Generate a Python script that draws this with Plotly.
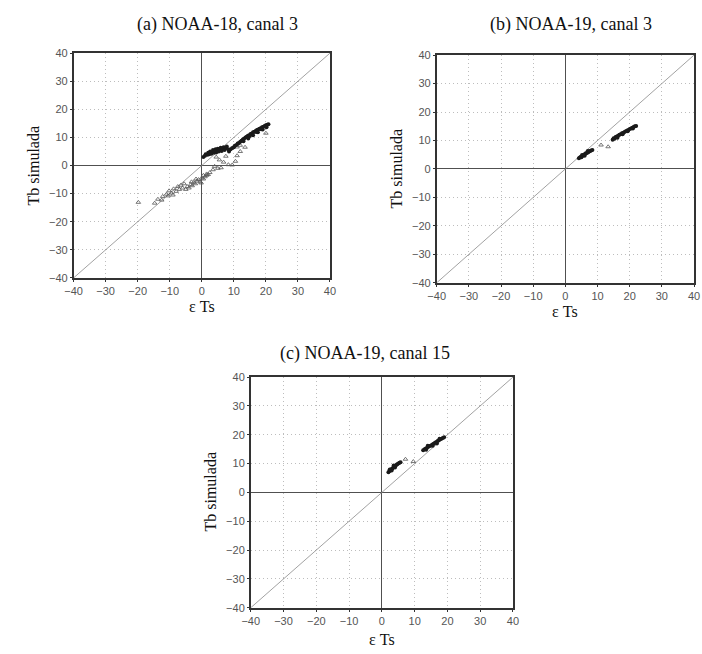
import plotly.graph_objects as go

W, H = 702, 654

TICKS = [-40, -30, -20, -10, 0, 10, 20, 30, 40]
DIAG = [-40, 40]

TITLES = ["(a) NOAA-18, canal 3", "(b) NOAA-19, canal 3", "(c) NOAA-19, canal 15"]
XLABEL = "ε Ts"
YLABEL = "Tb simulada"

# Panel (a) — dense points
a_dense_x = [0.5, 1.0, 1.2, 1.8, 2.0, 2.3, 2.6, 3.0, 3.2, 3.5, 3.8, 4.0, 4.3, 4.5, 4.8, 5.0, 5.3, 5.6, 5.9, 6.2, 6.5, 6.8, 7.1, 7.5, 7.8, 8.2,
             8.5, 9.0, 9.5, 10.0, 10.3, 10.8, 11.2, 11.6, 12.0, 12.4, 12.8, 13.2, 13.6, 14.0, 14.4, 14.8, 15.2, 15.6, 16.0, 16.4, 16.8,
             17.2, 17.6, 18.0, 18.4, 18.8, 19.2, 19.6, 20.0, 20.4, 20.8, 13.0, 14.5, 16.0, 17.5, 19.0, 15.0, 17.0, 18.5, 20.2]
a_dense_y = [3.0, 3.5, 4.0, 3.8, 4.5, 4.0, 5.0, 4.2, 4.8, 5.5, 4.5, 5.0, 5.8, 4.6, 5.3, 6.0, 5.0, 5.6, 6.3, 5.2, 5.9, 6.5, 5.5, 6.2, 6.8, 5.8,
             5.0, 5.8, 6.2, 6.5, 7.0, 7.3, 7.8, 8.0, 8.5, 8.8, 9.3, 9.5, 10.0, 10.2, 10.6, 10.8, 11.2, 11.4, 11.8, 12.0, 12.3,
             12.6, 12.8, 13.1, 13.3, 13.6, 13.8, 14.1, 14.3, 14.5, 14.7, 8.6, 9.6, 10.8, 11.8, 12.8, 10.5, 11.9, 12.9, 13.6]
# Panel (a) — sparse points
a_sparse_x = [4.5, 5.5, 6.8, 7.5, 8.3, 9.5, 10.5, 11.0, 12.0, 13.5, 6.0, 5.0, 3.5, 2.5, 4.0, 1.5, 0.5, 20.0, 12.0, 11.0,
              -5.0, -4.5, -4.0, -3.5, -3.0, -2.5, -2.0, -1.5, -1.0, -0.5, 0.0, 0.5, 1.0, 1.5, 2.0, -1.8, -3.2, -0.2,
              -19.8, -14.7, -13.7, -12.2, -11.0, -10.2, -9.5, -8.8, -8.0, -7.5, -7.0, -6.5, -6.0, -5.5, -10.5, -9.0, -12.5]
a_sparse_y = [3.0, 2.0, 1.2, 3.3, 0.3, 0.2, 1.5, 3.5, 5.0, 6.5, -0.8, -1.0, -1.5, -2.5, -0.3, -3.0, -3.5, 11.5, 7.2, 6.6,
              -8.5, -7.5, -8.0, -6.8, -7.2, -6.0, -6.5, -5.5, -5.0, -5.8, -4.5, -4.8, -4.0, -3.5, -3.2, -4.8, -5.8, -6.2,
              -13.1, -13.4, -12.0, -11.0, -10.2, -9.0, -9.8, -8.3, -9.2, -7.5, -8.5, -7.0, -8.0, -6.5, -10.8, -10.5, -12.3]

# Panel (b)
b_dense_x = [4.2, 4.5, 4.8, 5.0, 5.3, 5.6, 5.9, 6.2, 6.5, 6.8, 7.1, 7.4, 7.7, 8.0, 8.4, 5.2, 6.0, 7.0,
             14.7, 15.0, 15.3, 15.6, 16.0, 16.4, 16.8, 17.2, 17.6, 18.0, 18.4, 18.8, 19.2, 19.6, 20.0, 20.4, 20.8, 21.2, 21.6, 22.0,
             16.2, 17.8, 19.4, 21.0]
b_dense_y = [3.8, 4.0, 4.3, 4.1, 4.6, 4.8, 5.0, 5.3, 5.5, 5.7, 5.9, 6.1, 6.3, 6.5, 6.7, 4.9, 4.6, 6.3,
             10.3, 10.8, 10.6, 11.2, 11.4, 11.7, 12.0, 12.2, 12.5, 12.7, 13.0, 13.2, 13.5, 13.7, 14.0, 14.2, 14.5, 14.7, 15.0, 15.1,
             11.0, 12.2, 13.2, 14.2]
b_sparse_x = [11.1, 13.3]
b_sparse_y = [8.4, 7.8]

# Panel (c)
c_dense_x = [2.0, 2.3, 2.6, 2.9, 3.2, 3.5, 3.8, 4.1, 4.4, 4.7, 5.0, 5.4, 5.7, 3.0, 4.0, 2.4, 3.6,
             12.6, 13.0, 13.4, 13.8, 14.2, 14.6, 15.0, 15.4, 15.8, 16.2, 16.6, 17.0, 17.4, 17.8, 18.2, 18.6, 19.0,
             14.0, 15.5, 16.8, 13.5, 17.6]
c_dense_y = [7.0, 7.4, 7.6, 8.0, 8.3, 8.6, 8.9, 9.2, 9.5, 9.8, 10.0, 10.3, 10.5, 7.6, 8.6, 7.9, 9.3,
             14.6, 15.0, 15.2, 15.5, 15.8, 16.1, 16.3, 16.6, 16.9, 17.2, 17.5, 17.8, 18.1, 18.4, 18.6, 18.9, 19.1,
             16.2, 16.2, 17.0, 14.8, 18.6]
c_sparse_x = [7.2, 9.6]
c_sparse_y = [11.5, 10.7]

panels = [
    dict(dx=a_dense_x, dy=a_dense_y, sx=a_sparse_x, sy=a_sparse_y, box=(66, 328, 48, 277)),
    dict(dx=b_dense_x, dy=b_dense_y, sx=b_sparse_x, sy=b_sparse_y, box=(437, 700, 50, 282)),
    dict(dx=c_dense_x, dy=c_dense_y, sx=c_sparse_x, sy=c_sparse_y, box=(247, 515, 378, 613)),
]

title_pos = [(213, 19), (574, 19), (364, 354)]
ylab_pos = [(25, 162), (396, 166), (206, 495)]
xlab_pos = [(197, 306), (568, 311), (381, 645)]

fig = go.Figure()
annotations = []
for i, p in enumerate(panels):
    n = "" if i == 0 else str(i + 1)
    xa, ya = "x" + n, "y" + n
    fig.add_trace(go.Scatter(x=DIAG, y=DIAG, mode="lines", xaxis=xa, yaxis=ya,
                             line=dict(color="#8a8a8a", width=0.8), hoverinfo="skip", showlegend=False))
    fig.add_trace(go.Scatter(x=p["sx"], y=p["sy"], mode="markers", xaxis=xa, yaxis=ya,
                             marker=dict(symbol="triangle-up-open", size=4, color="#555555",
                                         line=dict(width=0.8, color="#555555")),
                             showlegend=False))
    fig.add_trace(go.Scatter(x=p["dx"], y=p["dy"], mode="markers", xaxis=xa, yaxis=ya,
                             marker=dict(symbol="circle", size=4, color="#1a1a1a",
                                         line=dict(width=0)),
                             showlegend=False))
    x0, x1, y0, y1 = p["box"]
    axis_common = dict(range=[-40, 40], tickvals=TICKS, showgrid=True, gridcolor="#bdbdbd",
                       griddash="1px,3px", gridwidth=1, zeroline=True, zerolinecolor="#505050",
                       zerolinewidth=1.2, showline=True, linecolor="#333333", linewidth=1.5,
                       mirror=True, ticks="outside", ticklen=2, tickcolor="#333333",
                       tickfont=dict(family="Liberation Sans, Arial, sans-serif", size=11, color="#555555"),
                       ticklabeloverflow="allow", fixedrange=True)
    fig.layout["xaxis" + n] = dict(axis_common, domain=[x0 / W, x1 / W], anchor=ya)
    fig.layout["yaxis" + n] = dict(axis_common, domain=[1 - y1 / H, 1 - y0 / H], anchor=xa)

    tx, ty = title_pos[i]
    annotations.append(dict(text=TITLES[i], x=tx / W, y=1 - ty / H, xref="paper", yref="paper",
                            showarrow=False, xanchor="center", yanchor="middle",
                            font=dict(family="Liberation Serif, Times New Roman, serif", size=18, color="#111111")))
    lx, ly = ylab_pos[i]
    annotations.append(dict(text=YLABEL, x=lx / W, y=1 - ly / H, xref="paper", yref="paper",
                            showarrow=False, xanchor="center", yanchor="middle", textangle=-90,
                            font=dict(family="Liberation Serif, Times New Roman, serif", size=16, color="#111111")))
    ex, ey = xlab_pos[i]
    annotations.append(dict(text=XLABEL, x=ex / W, y=1 - ey / H, xref="paper", yref="paper",
                            showarrow=False, xanchor="center", yanchor="middle",
                            font=dict(family="Liberation Serif, Times New Roman, serif", size=16, color="#111111")))

fig.update_layout(width=W, height=H, margin=dict(l=0, r=0, t=0, b=0),
                  paper_bgcolor="white", plot_bgcolor="white",
                  annotations=annotations, showlegend=False)

fig.write_html("out.html", config={"displayModeBar": False},
               post_script="document.body.style.margin='0';document.body.style.padding='0';")
